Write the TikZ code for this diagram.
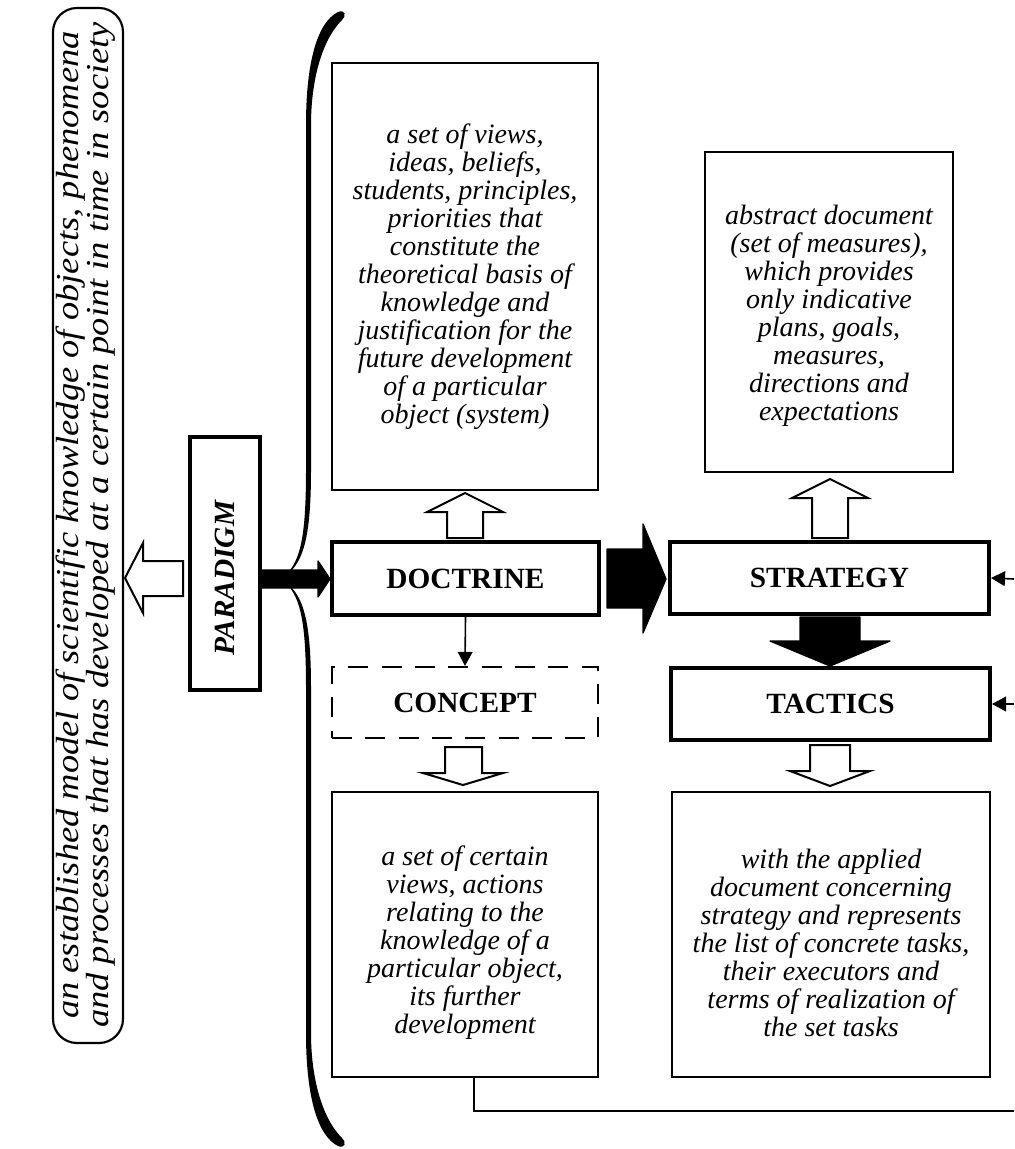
\documentclass[tikz,border=0pt]{standalone}
\usepackage{fontspec}
\setmainfont{Liberation Serif}
\usetikzlibrary{arrows.meta,fit,calc}
\begin{document}
\begin{tikzpicture}[x=0.75pt,y=-0.75pt,
  txt/.style={font=\fontsize{21}{21}\selectfont\itshape, align=center, inner sep=0pt},
  lbl/.style={font=\fontsize{22}{24}\selectfont\bfseries, inner sep=0pt},
  thinbox/.style={draw, line width=1.6pt, inner sep=0pt},
  thickbox/.style={draw, line width=3pt, inner sep=0pt},
  hollow/.style={draw, line width=1.5pt, fill=white, line join=miter},
  solidarr/.style={fill=black, draw=black, line width=1pt, line join=round},
  conn/.style={line width=1.2pt, -{Triangle[length=10.5pt,width=11pt]}},
  plain/.style={line width=1.6pt}]
\useasboundingbox (0,0) rectangle (1014,1149);

% left rounded box
\node[thinbox, rounded corners=18pt, fit={(53,8) (123,1043)}] (model) {};
\node[txt, font=\fontsize{24}{20.5}\selectfont\itshape, rotate=90, xscale=1.14] (modeltxt) at (86,525) {an established model of scientific knowledge of objects, phenomena\\and processes that has developed at a certain point in time in society};

% paradigm
\node[thickbox, fit={(190,437) (260,690)}] (paradigm) {};
\node[lbl, font=\fontsize{22}{24}\selectfont\bfseries\itshape, rotate=90] (paradigmtxt) at (225,578) {PARADIGM};

% boxes
\node[thinbox, fit={(332,63) (598,490)}] (dbox) {};
\node[txt] (dtxt) at (465,277) {a set of views,\\ideas, beliefs,\\students, principles,\\priorities that\\constitute the\\theoretical basis of\\knowledge and\\justification for the\\future development\\of a particular\\object (system)};

\node[thickbox, fit={(332,542) (599,615)}] (doctrine) {};
\node[lbl] (doctrinetxt) at (doctrine.center) {DOCTRINE};

\node[thinbox, dash pattern=on 15pt off 10pt, fit={(332,667) (598,738)}] (concept) {};
\node[lbl] (concepttxt) at (concept.center) {CONCEPT};

\node[thinbox, fit={(332,792) (598,1077)}] (clow) {};
\node[txt] (clowtxt) at (465,943) {a set of certain\\views, actions\\relating to the\\knowledge of a\\particular object,\\its further\\development};

\node[thinbox, fit={(705,152) (953,472)}] (sbox) {};
\node[txt] (stxt) at (829,316) {abstract document\\(set of measures),\\which provides\\only indicative\\plans, goals,\\measures,\\directions and\\expectations};

\node[thickbox, fit={(670,542) (989,614)}] (strategy) {};
\node[lbl] (strategytxt) at (strategy.center) {STRATEGY};

\node[thickbox, fit={(671,668) (990,740)}] (tactics) {};
\node[lbl] (tacticstxt) at (tactics.center) {TACTICS};

\node[thinbox, fit={(672,792) (990,1077)}] (tlow) {};
\node[txt] (tlowtxt) at (831,943) {with the applied\\document concerning\\strategy and represents\\the list of concrete tasks,\\their executors and\\terms of realization of\\the set tasks};

% brace
\fill (338,12) .. controls (318,22) and (306,60) .. (306,125) -- (306,470)
  .. controls (306,540) and (300,565) .. (281,579)
  .. controls (303,566) and (311,540) .. (311,470) -- (311,125)
  .. controls (311,80) and (322,40) .. (342,20)
  .. controls (347,16) and (345,9) .. (338,12) -- cycle;
\fill (338,1146) .. controls (318,1136) and (306,1098) .. (306,1033) -- (306,688)
  .. controls (306,618) and (300,593) .. (281,579)
  .. controls (303,592) and (311,618) .. (311,688) -- (311,1033)
  .. controls (311,1078) and (322,1118) .. (342,1138)
  .. controls (347,1142) and (345,1149) .. (338,1146) -- cycle;

% block arrows
\draw[hollow] (125,578) -- (143,543) -- (143,561) -- (183,561) -- (183,596) -- (143,596) -- (143,613) -- cycle;
\draw[solidarr] (260,570) -- (318,570) -- (318,561) -- (330,579) -- (318,597) -- (318,588) -- (260,588) -- cycle;
\draw[solidarr] (607,549) -- (643,549) -- (643,524) -- (666,579) -- (643,633) -- (643,608) -- (607,608) -- cycle;
\draw[solidarr] (800,617) -- (860,617) -- (860,641) -- (890,641) -- (830,666) -- (770,641) -- (800,641) -- cycle;

\draw[hollow] (465,493) -- (503,512) -- (483,512) -- (483,538) -- (447,538) -- (447,512) -- (427,512) -- cycle;
\draw[hollow] (830,479) -- (868,498) -- (848,498) -- (848,538) -- (812,538) -- (812,498) -- (792,498) -- cycle;
\draw[hollow] (445,747) -- (482,747) -- (482,773) -- (503,773) -- (463,785) -- (423,773) -- (445,773) -- cycle;
\draw[hollow] (810,745) -- (850,745) -- (850,771) -- (870,771) -- (830,786) -- (790,771) -- (810,771) -- cycle;

% connectors
\draw[conn] (doctrine.south) -- (concept.north);
\coordinate (rin1) at (1014,579);
\coordinate (rin2) at (1014,704);
\coordinate (bend) at (1014,1111);
\draw[conn] (rin1) -- (strategy.east);
\draw[conn] (rin2) -- (tactics.east);
\draw[plain] ($(clow.south)+(9,0)$) |- (bend);
\end{tikzpicture}
\end{document}
